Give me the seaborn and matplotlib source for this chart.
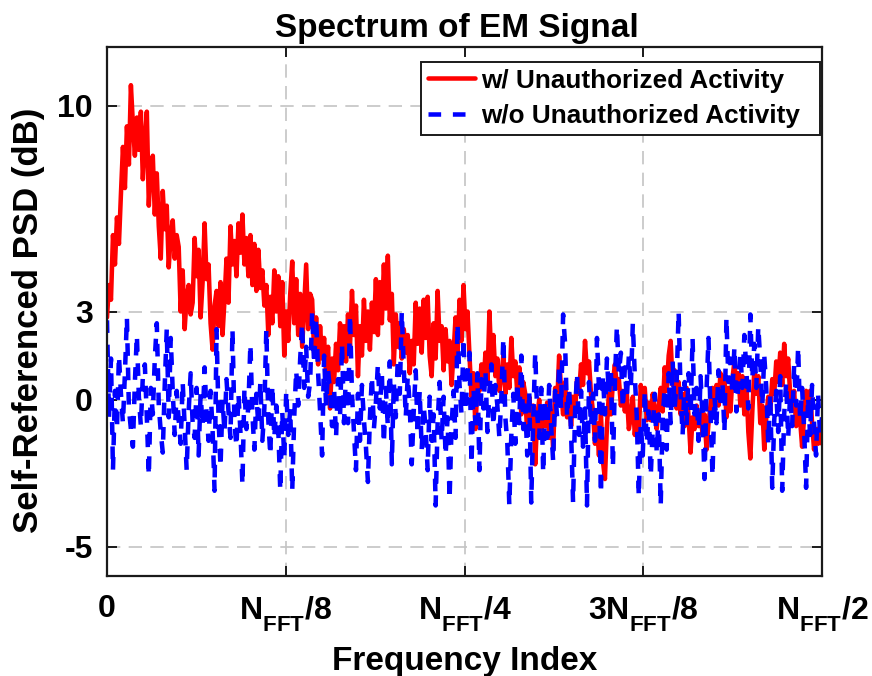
import numpy as np
import pandas as pd
import matplotlib
matplotlib.use("Agg")
import matplotlib.pyplot as plt
from matplotlib import font_manager
import matplotlib._mathtext as _mt
import seaborn as sns

# ---- data: self-referenced PSD (dB) over the one-sided frequency axis ----
NFFT = 4096

psd_with = [
    2.8, 3.9, 3.4, 5.6, 4.6, 6.2, 5.3, 7.0, 8.6, 7.2, 9.3, 8.0, 10.7, 9.4, 8.3, 9.6, 8.5, 9.8, 7.5, 8.8,
    9.8, 6.6, 8.0, 8.3, 6.3, 7.7, 5.9, 4.8, 7.1, 5.8, 6.6, 4.5, 5.6, 6.1, 4.8, 5.6, 5.2, 3.0, 4.4, 2.4,
    3.5, 3.9, 2.9, 3.3, 5.5, 4.2, 5.1, 2.8, 4.0, 6.0, 4.1, 4.6, 2.6, 1.7, 3.2, 3.7, 2.5, 4.0, 2.2, 3.4,
    4.8, 3.3, 5.9, 4.6, 5.4, 4.2, 6.0, 5.0, 6.3, 4.6, 5.5, 4.2, 5.6, 3.9, 5.3, 3.7, 5.1, 3.8, 4.4, 3.2,
    3.9, 2.2, 3.5, 2.6, 4.4, 3.0, 4.2, 2.5, 4.0, 1.5, 3.0, 2.0, 3.6, 4.7, 2.6, 4.1, 2.2, 3.6, 1.8, 3.2,
    4.6, 2.4, 3.6, 3.4, 1.6, 2.8, 1.2, 2.5, 1.4, 2.1, 0.9, 1.8, -0.3, 1.4, 0.6, 1.9, 1.0, 2.6, 1.3, 2.5,
    1.3, 2.9, 1.8, 3.7, 2.2, 3.2, 0.8, 2.5, 1.5, 3.4, 2.0, 3.0, 1.7, 3.3, 2.3, 4.1, 2.2, 4.0, 2.6, 4.6,
    3.1, 4.9, 2.7, 3.6, 1.2, 2.9, 1.8, 2.6, 1.4, 2.4, 1.6, 2.2, 0.9, 2.0, 1.2, 3.3, 1.9, 3.1, 1.6, 3.4,
    2.1, 3.5, 1.5, 0.8, 2.6, 1.4, 3.7, 2.0, 2.5, 1.0, 2.4, 1.3, 2.0, 0.5, 1.6, 2.8, 1.5, 3.4, 2.0, 3.9,
    2.4, 3.0, 1.5, 0.1, 0.9, -1.0, 0.6, 0.3, 1.2, 0.4, 1.6, 0.6, 3.0, 1.3, 2.2, 0.8, 1.4, 0.3, 0.8, 1.5,
    0.2, 1.2, 0.4, 2.1, 0.8, 1.3, 0.2, 1.1, -0.5, 0.6, 0.2, -1.2, 0.1, -0.8, -0.2, -2.2, -0.6, 0.0, -1.1, -0.3,
    -0.9, -0.1, -1.3, -0.4, -1.7, 0.4, -0.2, 1.5, 0.3, -0.5, 0.6, -0.6, 0.2, -0.9, 0.1, -0.4, 0.7, 0.2, 1.2, 0.5,
    2.0, 0.9, 1.3, 0.2, -0.4, -1.5, -0.8, -1.9, -0.5, -2.1, -2.7, -0.9, 0.2, -0.5, 0.6, 1.2, 0.4, 0.7, -0.2, 0.3,
    -0.4, 0.2, -1.0, -0.6, 0.1, -1.2, -0.4, -1.1, 0.5, -0.2, 0.4, -0.7, -0.1, -0.7, 0.2, -0.3, -1.0, -0.2, 0.4, -0.4,
    1.1, 0.3, 1.5, 2.0, 0.5, 1.0, -0.3, 0.6, -0.5, 0.2, -0.9, 0.4, -0.6, -1.8, -0.6, -1.0, -0.2, -0.9, -0.4, -1.2,
    -0.5, -1.7, -0.8, -0.2, 0.4, -0.3, 0.5, -0.2, 0.9, 0.1, 0.8, -0.6, 0.4, -0.4, 0.7, 1.3, 0.3, 0.9, -0.2, 0.8,
    -0.5, 0.6, -1.1, -2.0, -0.4, 1.0, 0.2, 0.8, -0.8, -0.2, -1.7, -0.6, 0.1, -0.4, 0.7, 0.2, 1.3, 0.6, 1.6, 0.5,
    1.9, 0.8, 1.4, 0.2, -0.3, 0.3, -0.9, -0.2, -0.7, -1.6, -0.6, 0.3, -0.5, 0.3, -0.8, -1.7, -1.0, -1.5, -0.9, -1.5,
]

psd_without = [
    2.7, -0.6, 1.4, -2.4, 0.3, -1.0, 1.5, 0.2, -0.8, 0.9, 2.8, -0.3, -1.0, -1.6, 0.6, 2.2, 0.1, -0.9, 0.8, 1.2,
    -0.6, -2.6, 0.4, -0.5, 1.4, 2.6, -0.2, -1.1, -1.8, 0.5, 2.4, -0.6, 2.1, 0.3, -1.2, 0.3, -0.7, -1.5, 0.6, -0.9,
    -2.4, -0.4, 0.9, -0.8, -1.3, 0.4, -1.9, 0.2, -0.9, 1.1, -0.5, -1.4, 0.3, -1.0, -3.1, 2.4, -0.6, -2.3, 0.0, -1.1,
    0.7, -0.4, -1.3, 2.4, -0.8, -1.6, 0.2, -1.1, -2.9, 0.4, -1.0, -0.2, 1.9, -0.5, -1.7, 0.2, -0.9, 0.6, -1.4, -0.3,
    2.4, -0.7, -1.9, 0.5, -1.3, -0.2, -1.0, -3.1, -0.4, -2.0, 0.3, -1.2, -0.3, -3.1, -0.6, 1.0, -0.2, 1.4, 2.6, 0.4,
    1.8, 0.1, 0.6, 3.0, 1.2, 2.8, 0.9, -0.4, -1.9, 1.5, -0.2, 1.0, 0.3, -0.9, 0.4, -1.3, 0.7, -0.6, 1.9, -0.8,
    0.9, -0.8, 2.9, 0.2, -1.1, -2.4, 0.2, -1.4, 0.5, -0.7, -1.6, -2.8, -0.6, 0.8, -1.0, -0.1, 1.2, -0.3, 0.9, -1.5,
    0.4, -0.9, 1.3, -2.2, 0.6, -0.6, 1.4, 0.2, 3.0, 1.1, -0.6, 0.8, -0.2, -2.2, -0.4, 1.0, -1.2, 0.3, -1.7, -0.2,
    -1.0, -2.4, 0.1, -1.4, -0.5, -3.6, -0.8, 0.6, -1.4, 0.1, -1.9, -0.6, -3.4, -0.9, 0.3, -1.3, 2.6, 0.5, -0.5, 2.1,
    -0.4, 0.9, 1.6, -2.2, 0.4, -0.8, 0.9, -2.4, 0.7, -0.3, 1.0, -1.1, 0.3, 1.2, -0.9, 0.5, -0.2, -1.3, 0.1, 2.1,
    -0.6, -1.5, -3.6, -1.2, 0.2, -1.5, 0.6, -0.8, 1.5, -1.0, -0.2, -1.9, 0.3, -3.5, -0.7, 1.6, -0.5, -1.3, 0.4, -2.5,
    0.0, -1.3, 0.5, -0.9, -2.1, 0.3, -0.6, 1.2, -0.3, 2.9, 1.9, -0.6, 0.4, -1.1, -3.5, -0.4, 0.9, -1.2, 0.3, -1.6,
    -0.3, -3.6, 0.6, -0.9, 0.2, -1.4, 2.1, 0.4, -3.2, 0.8, -0.5, 1.4, 0.2, 1.0, -2.3, 0.6, 2.5, 0.9, 1.6, -0.3,
    1.1, 0.0, 1.5, 0.4, 2.6, 0.8, -0.6, -3.3, -0.8, -1.9, 0.3, -1.5, -0.4, -2.6, -1.0, 0.2, -1.8, -0.5, -3.6, -0.6,
    0.4, -1.7, 0.9, -0.8, 1.3, -0.3, 0.6, 3.0, 0.2, -1.2, 0.6, -0.9, 0.9, -0.5, 2.1, -0.5, 0.4, -1.4, 0.8, -0.6,
    -2.7, 0.3, 2.1, -0.4, -2.6, 0.1, -0.8, 1.0, -0.3, 0.6, -1.1, 2.8, 0.6, 1.4, 0.2, 1.8, -0.4, 0.5, 1.6, 0.4,
    2.2, 1.0, -0.3, 2.9, 0.7, 1.9, 0.4, 2.5, 1.3, -0.2, 1.5, 0.4, -1.5, 0.2, -3.0, -0.7, 0.3, -1.1, 0.8, -3.1,
    -0.5, 0.6, -1.3, 0.2, -0.9, 1.2, -0.2, 1.8, -0.7, 0.4, -1.0, -3.0, 0.1, -1.2, 0.5, -0.8, -1.9, 0.2, -1.2, -0.6,
]

series_labels = ["w/ Unauthorized Activity", "w/o Unauthorized Activity"]
y_ticks = [-5, 0, 3, 10]
x_tick_labels = ["0", r"$N_{FFT}/8$", r"$N_{FFT}/4$", r"$3N_{FFT}/8$", r"$N_{FFT}/2$"]

freq_idx = np.linspace(0, NFFT / 2, len(psd_with))
df = pd.DataFrame({"bin": freq_idx, "with": psd_with, "without": psd_without})

# ---- style ----
sns.set_theme(style="white")
available = {f.name for f in font_manager.fontManager.ttflist}
main_font = "Liberation Sans" if "Liberation Sans" in available else "DejaVu Sans"
plt.rcParams.update({
    "font.family": [main_font, "DejaVu Sans"],
    "font.weight": "bold",
    "axes.unicode_minus": False,
    "text.color": "black",
    "axes.labelcolor": "black",
    "xtick.color": "black",
    "ytick.color": "black",
    "mathtext.fontset": "custom",
    "mathtext.rm": f"{main_font}:bold",
    "mathtext.it": f"{main_font}:bold",
    "mathtext.bf": f"{main_font}:bold",
    "mathtext.default": "regular",
})
# deeper subscripts for the N_FFT tick labels
_mt.FontConstantsBase.sub1 = 0.75

fig = plt.figure(figsize=(8.72, 6.76), dpi=100)
ax = fig.add_axes([0.1227, 0.1479, 0.8200, 0.7826])

lw = 3.25
sns.lineplot(data=df, x="bin", y="with", ax=ax, color="#ff0000", lw=lw,
             label=series_labels[0], sort=False, estimator=None)
sns.lineplot(data=df, x="bin", y="without", ax=ax, color="#0000ff", lw=lw,
             linestyle="--", label=series_labels[1], sort=False, estimator=None)
ax.lines[1].set_dashes((2.8, 2.6))

ax.set_xlim(0, NFFT / 2)
ax.set_ylim(-6, 12)
ax.set_xticks([0, NFFT / 8, NFFT / 4, 3 * NFFT / 8, NFFT / 2])
ax.set_xticklabels(x_tick_labels)
ax.set_yticks(y_ticks)
ax.set_yticklabels([str(t) for t in y_ticks])

ax.grid(True, color="#c4c4c4", linestyle=(0, (8, 5)), linewidth=1.2)
ax.set_axisbelow(True)

for s in ax.spines.values():
    s.set_visible(True)
    s.set_color("#1a1a1a")
    s.set_linewidth(1.6)
ax.tick_params(axis="both", which="major", direction="in", length=7, width=1.4,
               top=True, right=True, bottom=True, left=True,
               labelsize=23, colors="#1a1a1a", labelcolor="black")
ax.tick_params(axis="x", pad=13)
ax.tick_params(axis="y", pad=10)

ax.set_title("Spectrum of EM Signal", fontsize=24, fontweight="bold", pad=7.5, x=0.4895)
ax.set_xlabel("Frequency Index", fontsize=24, fontweight="bold", labelpad=8.5)
ax.set_ylabel("Self-Referenced PSD (dB)", fontsize=25, fontweight="bold", labelpad=9)
ax.yaxis.label.set_y(0.483)

# legend: a trailing en space gives the box its wider right margin
handles, labels = ax.get_legend_handles_labels()
leg = ax.legend(handles, [lab + "\u2002" for lab in labels],
                loc="upper right", bbox_to_anchor=(0.9972, 0.9716), borderaxespad=0,
                fontsize=18.8, frameon=True, fancybox=False, edgecolor="#1a1a1a",
                handlelength=1.8, handletextpad=0.25, borderpad=0.25,
                labelspacing=0.45)
leg.get_frame().set_linewidth(1.4)
leg.get_frame().set_alpha(1)
for t in leg.get_texts():
    t.set_fontweight("bold")

fig.savefig("out.png", dpi=100)
